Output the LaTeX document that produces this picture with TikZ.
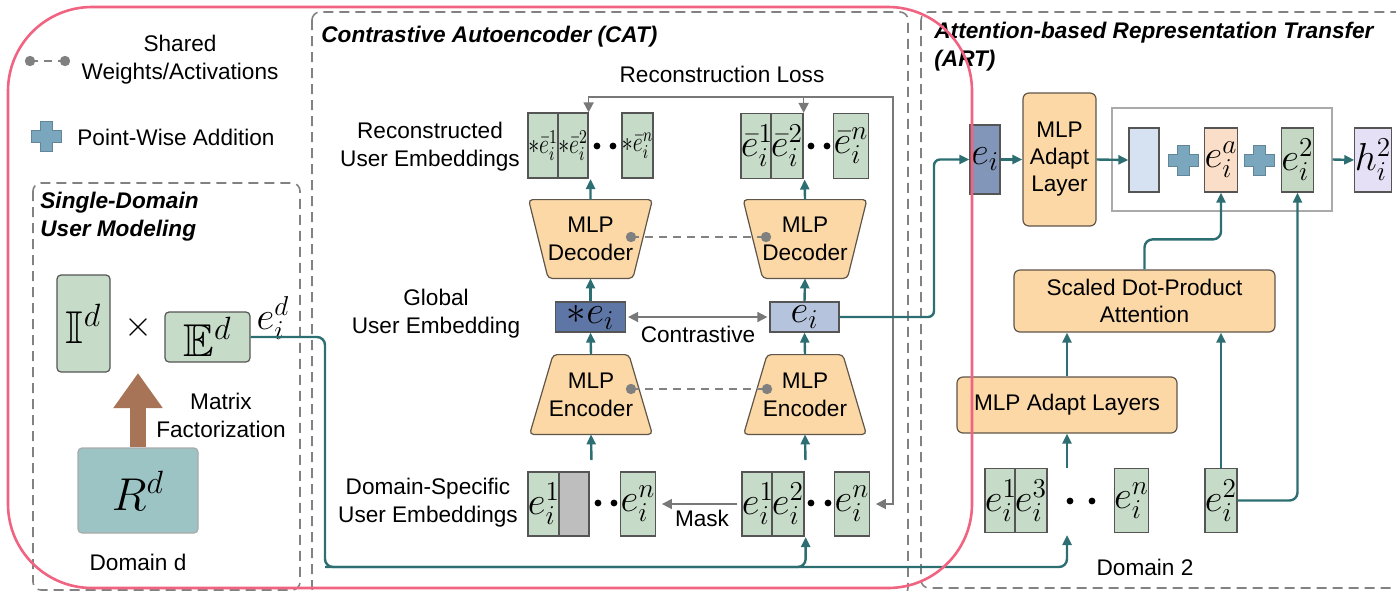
\documentclass[tikz,border=0pt]{standalone}
\usepackage{fix-cm}
\usepackage{graphicx}
\usepackage{amssymb}
\usepackage{fontspec}
\setmainfont{Liberation Sans}
\usetikzlibrary{arrows.meta,fit,calc,backgrounds}

\definecolor{flowteal}{RGB}{44,110,114}
\definecolor{embgreen}{RGB}{199,219,201}
\definecolor{edgegrey}{RGB}{85,85,85}
\definecolor{mlpfill}{RGB}{251,216,166}
\definecolor{mlpedge}{RGB}{95,85,72}
\definecolor{embdark}{RGB}{94,118,166}
\definecolor{emblight}{RGB}{182,195,220}
\definecolor{embmid}{RGB}{130,150,186}
\definecolor{sumblue}{RGB}{214,226,241}
\definecolor{peach}{RGB}{250,222,200}
\definecolor{sumgreen}{RGB}{196,216,196}
\definecolor{lavender}{RGB}{230,224,246}
\definecolor{ratingteal}{RGB}{156,196,196}
\definecolor{mfbrown}{RGB}{168,116,88}
\definecolor{pinkline}{RGB}{240,100,130}
\definecolor{dashgrey}{RGB}{130,130,130}
\definecolor{linkgrey}{RGB}{120,120,120}
\definecolor{dotgrey}{RGB}{128,128,128}
\definecolor{maskgrey}{RGB}{190,190,190}
\definecolor{plusblue}{RGB}{122,166,190}
\definecolor{sumedge}{RGB}{170,170,170}

\newcommand\embfont{\fontsize{19.5}{19.5}\selectfont}
\newcommand\bigmath{\fontsize{23}{23}\selectfont}
\newcommand\smallmath{\fontsize{14}{14}\selectfont}
% narrow label for the tightly packed reconstructed embeddings
\newcommand\narrowemb[1]{\scalebox{0.78}[1]{$#1$}}

% trapezoid outline around a node: #1 node, #2 inset of the top edge, #3 inset of the bottom edge
\newcommand\mlptrap[3]{%
  \draw[draw=mlpedge, line width=0.6pt, fill=mlpfill, rounded corners=2pt]
    ($(#1.north west)+(#2,0)$) -- ($(#1.north east)+(-#2,0)$) --
    ($(#1.south east)+(-#3,0)$) -- ($(#1.south west)+(#3,0)$) -- cycle;}

\tikzset{
  txt/.style={font=\fontsize{11.3}{14}\selectfont, align=center, inner sep=0},
  ttl/.style={font=\fontsize{11.3}{14}\selectfont\bfseries\itshape, align=left, inner sep=0},
  emb/.style={draw=edgegrey, line width=0.6pt, fill=embgreen, minimum width=15pt,
    minimum height=32pt, inner sep=0, font=\embfont},
  mlp/.style={draw=mlpedge, line width=0.6pt, fill=mlpfill, rounded corners=3pt,
    inner sep=0, font=\fontsize{11.3}{13.5}\selectfont, align=center},
  flow/.style={draw=flowteal, line width=1.2pt, -{Triangle[length=5pt,width=4.5pt]}},
  gline/.style={draw=linkgrey, line width=0.8pt},
  gflow/.style={gline, -{Triangle[length=5pt,width=5pt]}},
  gboth/.style={gline, {Triangle[length=5pt,width=5pt]}-{Triangle[length=5pt,width=5pt]}},
  sectionbox/.style={draw=dashgrey, line width=0.8pt, dash pattern=on 5pt off 3pt, rounded corners=4pt},
  share/.style={draw=dashgrey, line width=0.9pt, dash pattern=on 4pt off 3pt},
  pluspic/.pic={
    \draw[fill=plusblue, draw=plusblue!80!black, line width=0.3pt]
      (-15,-6) -- (-6,-6) -- (-6,-15) -- (6,-15) -- (6,-6) -- (15,-6)
      -- (15,6) -- (6,6) -- (6,15) -- (-6,15) -- (-6,6) -- (-15,6) -- cycle;
  },
}

\begin{document}
\begin{tikzpicture}[x=0.5pt,y=-0.5pt]
\useasboundingbox (0,0) rectangle (1396,590);

% ---------- section frames ----------
\draw[sectionbox] (33,183) rectangle (300,590);
\draw[sectionbox] (312,12) rectangle (908,596);
\draw[sectionbox] (921,12) rectangle (1410,588);

% ---------- legend ----------
\coordinate (shA) at (30,61);
\coordinate (shB) at (65,61);
\draw[share] (shA) -- (shB);
\fill[dotgrey] (shA) circle (2.6pt) (shB) circle (2.6pt);
\node[txt] (shTxt) at (180,60) {Shared\\Weights/Activations};
\pic at (46,136) {pluspic};
\node[txt, anchor=west] (pwTxt) at (77,137) {Point-Wise Addition};

% ---------- single-domain user modeling ----------
\node[ttl, anchor=west] (sdTitle) at (40,217) {Single-Domain\\User Modeling};
\node[emb, rounded corners=2pt, minimum width=26.5pt, minimum height=48.5pt, font=\bigmath]
  (Id) at (83.5,323.5) {$\mathbb{I}^d$};
\node[font=\fontsize{18}{18}\selectfont] (times) at (138,327) {$\times$};
\node[emb, rounded corners=2pt, minimum width=42.5pt, minimum height=25pt, font=\bigmath]
  (Ed) at (207.5,337) {$\mathbb{E}^d$};
\node[font=\embfont] (edLab) at (273,318) {$e_i^d$};
\node[draw=sumedge, line width=0.6pt, fill=ratingteal, minimum width=60pt, minimum height=42.5pt,
  rounded corners=2pt, font=\bigmath] (Rd) at (138,490.5) {$R^d$};
\coordinate (mfTip) at (138,373);
\draw[mfbrown, line width=8pt, -{Triangle[length=17.5pt,width=23.5pt]}] (Rd.north) -- (mfTip);
\node[txt] (mfTxt) at (221,415) {Matrix\\Factorization};
\node[txt] (ddTxt) at (138,562) {Domain d};

% ---------- contrastive autoencoder ----------
\node[ttl, anchor=west] (catTitle) at (321,37) {Contrastive Autoencoder (CAT)};
\node[txt] (rlTxt) at (722,74) {Reconstruction Loss};
\node[txt] (reTxt) at (430,147) {Reconstructed\\User Embeddings};
\node[txt] (geTxt) at (436,314) {Global\\User Embedding};
\node[txt] (dsTxt) at (428,503) {Domain-Specific\\User Embeddings};

% reconstructed embeddings
\node[emb, minimum height=32.5pt, font=\smallmath] (rL1) at (543,145.5) {\narrowemb{*\bar{e}_i^1}};
\node[emb, minimum height=32.5pt, font=\smallmath] (rL2) at (573,145.5) {\narrowemb{*\bar{e}_i^2}};
\node[emb, minimum height=32.5pt, font=\smallmath] (rL3) at (637.5,145.5) {\narrowemb{*\bar{e}_i^n}};
\node[fit=(rL1)(rL3), inner sep=0] (rL) {};
\node[emb, minimum height=32.5pt] (rR1) at (757,146) {$\bar{e}_i^1$};
\node[emb, minimum height=32.5pt] (rR2) at (787,146) {$\bar{e}_i^2$};
\node[emb, minimum height=32.5pt] (rR3) at (851,146) {$\bar{e}_i^n$};
\node[fit=(rR1)(rR3), inner sep=0] (rR) {};
\foreach \x in {597,613,811,827} \fill (\x,146) circle (1.7pt);

% decoders (wide at the top) and encoders (wide at the bottom)
\node[txt, minimum width=61.5pt, minimum height=39pt] (decL) at (590.5,239) {MLP\\Decoder};
\node[txt, minimum width=61.5pt, minimum height=39pt] (decR) at (805,239) {MLP\\Decoder};
\node[txt, minimum width=61pt, minimum height=39.5pt] (encL) at (591,394.5) {MLP\\Encoder};
\node[txt, minimum width=61pt, minimum height=39.5pt] (encR) at (805,394.5) {MLP\\Encoder};
\begin{scope}[on background layer]
  \mlptrap{decL}{0}{19.5}
  \mlptrap{decR}{0}{19.5}
  \mlptrap{encL}{23.5}{0}
  \mlptrap{encR}{23.5}{0}
\end{scope}
\coordinate (decSA) at (631,237);
\coordinate (decSB) at (766,237);
\draw[share] (decSA) -- (decSB);
\fill[dotgrey] (decSA) circle (2.6pt) (decSB) circle (2.6pt);
\coordinate (encSA) at (631,389);
\coordinate (encSB) at (767,389);
\draw[share] (encSA) -- (encSB);
\fill[dotgrey] (encSA) circle (2.6pt) (encSB) circle (2.6pt);

% global embeddings
\node[emb, fill=embdark, minimum width=35pt, minimum height=15pt] (embL) at (590.5,317) {$*e_i$};
\node[emb, fill=emblight, minimum width=34.5pt, minimum height=15pt] (embR) at (804.5,317) {$e_i$};
\draw[gboth, shorten <=1pt, shorten >=1pt] (embL.east) -- (embR.west);
\node[txt] (ctTxt) at (698,334) {Contrastive};

% domain-specific embeddings
\node[emb] (dsL1) at (544,504) {$e_i^1$};
\node[emb, fill=maskgrey] (dsL2) at (574,504) {};
\node[emb] (dsL3) at (638,504) {$e_i^n$};
\node[fit=(dsL1)(dsL3), inner sep=0] (dsL) {};
\node[emb] (dsR1) at (758,504) {$e_i^1$};
\node[emb] (dsR2) at (788,504) {$e_i^2$};
\node[emb] (dsR3) at (852,504) {$e_i^n$};
\node[fit=(dsR1)(dsR3), inner sep=0] (dsR) {};
\foreach \x in {598,614,811,828} \fill (\x,503) circle (1.7pt);
\draw[gflow, shorten <=2pt, shorten >=3pt] (dsR1.west) -- (dsL3.east);
\node[txt] (maskTxt) at (702,518) {Mask};

% flow through the autoencoder
\draw[flow, shorten <=5.5pt] (dsL.north) -- (encL.south);
\draw[flow, shorten <=5.5pt] (dsR.north) -- (encR.south);
\draw[flow] (encL.north) -- (embL.south);
\draw[flow] (encR.north) -- (embR.south);
\draw[flow] (embL.north) -- (decL.south);
\draw[flow] (embR.north) -- (decR.south);
\draw[flow] (decL.north) -- (rL.south);
\draw[flow] (decR.north) -- (rR.south);

% reconstruction loss links
\coordinate (rlTop) at (893,97);
\draw[gboth, shorten >=3pt] (rL2.north east) |- (rlTop) |- (dsR3.east);
\draw[gflow] (rR2.north east |- rlTop) -- (rR2.north east);

% ---------- attention-based representation transfer ----------
\node[ttl, anchor=west] (artTitle) at (934,47) {Attention-based Representation Transfer\\(ART)};
\node[emb, fill=embmid, minimum height=34.5pt] (artE) at (985,159.5) {$e_i$};
\node[mlp, minimum width=36.5pt, minimum height=66.5pt] (mlpA) at (1059.5,159.5) {MLP\\Adapt\\Layer};
\node[draw=sumedge, line width=0.6pt, minimum width=110pt, minimum height=51.5pt, inner sep=0]
  (sumBox) at (1222,159.5) {};
\node[emb, fill=sumblue] (sumB) at (1144,160) {};
\pic at (1183,160) {pluspic};
\node[emb, fill=peach] (sumA) at (1221,160) {$e_i^a$};
\pic at (1259,160) {pluspic};
\node[emb, fill=sumgreen] (sumE) at (1297.5,160) {$e_i^2$};
\node[emb, fill=lavender] (hOut) at (1373,160) {$h_i^2$};

\node[mlp, minimum width=130.5pt, minimum height=31pt] (attn) at (1144.5,301) {Scaled Dot-Product\\Attention};
\node[mlp, minimum width=110pt, minimum height=28pt] (mlpL) at (1067,405) {MLP Adapt Layers};

\node[emb] (d21) at (1001,500.5) {$e_i^1$};
\node[emb] (d23) at (1031,500.5) {$e_i^3$};
\node[emb] (d2n) at (1131.5,500.5) {$e_i^n$};
\node[emb] (d22) at (1221,500.5) {$e_i^2$};
\foreach \x in {1070,1092} \fill (\x,501) circle (1.7pt);
\node[txt] (d2Txt) at (1145,567) {Domain 2};

\coordinate (artTurn) at (934,317);
\draw[flow, rounded corners=3pt] (embR.east) -- (artTurn) |- (artE.west);
\draw[flow] (artE.east) -- (mlpA.west);
\draw[flow] (mlpA.east) -- (sumB.west);
\draw[flow] (sumBox.east) -- (hOut.west);
\draw[flow, rounded corners=4pt] (attn.north) -- ++(0,-30) -| (sumA.south);
\draw[flow] (mlpL.north) -- (mlpL.north |- attn.south);
\coordinate (d2Out) at (1067,468);
\draw[flow] (d2Out) -- (mlpL.south);
\draw[flow] (d22.north) -- (d22.north |- attn.south);
\draw[flow, rounded corners=4pt] (d22.east) -| (sumE.south);

% domain embedding bus
\coordinate (busL) at (325,567);
\coordinate (d2In) at (1067,535);
\draw[flow, rounded corners=4pt] (Ed.east) -| (busL) -| (d2In);
\draw[flow, rounded corners=4pt] (busL) -| (dsR.south);

% ---------- highlighted region ----------
\draw[pinkline, line width=1.3pt, rounded corners=42pt] (8,7) rectangle (972,588);
\end{tikzpicture}
\end{document}
